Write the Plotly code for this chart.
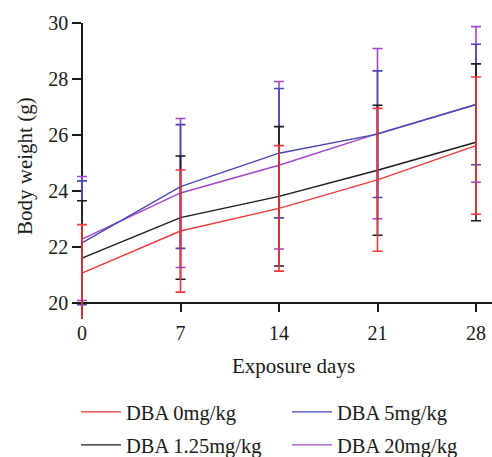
import plotly.graph_objects as go

days = [0, 7, 14, 21, 28]

series_names = ["DBA 0mg/kg", "DBA 1.25mg/kg", "DBA 5mg/kg", "DBA 20mg/kg"]
means_0 = [21.07, 22.57, 23.38, 24.40, 25.62]
err_up_0 = [1.73, 2.18, 2.24, 2.55, 2.45]
err_down_0 = [1.73, 2.18, 2.24, 2.55, 2.45]
means_125 = [21.60, 23.05, 23.81, 24.74, 25.74]
err_up_125 = [2.05, 2.20, 2.49, 2.32, 2.80]
err_down_125 = [1.60, 2.20, 2.49, 2.32, 2.80]
means_5 = [22.15, 24.16, 25.35, 26.03, 27.09]
err_up_5 = [2.21, 2.21, 2.31, 2.26, 2.15]
err_down_5 = [2.21, 2.21, 2.31, 2.26, 2.15]
means_20 = [22.28, 23.93, 24.92, 26.05, 27.09]
err_up_20 = [2.24, 2.66, 2.99, 3.04, 2.78]
err_down_20 = [2.19, 2.66, 2.99, 3.04, 2.78]

colors = {"DBA 0mg/kg": "#ee3a3a", "DBA 1.25mg/kg": "#1a1a1a",
          "DBA 5mg/kg": "#4747b3", "DBA 20mg/kg": "#a444cc"}

y_ticks = [20, 22, 24, 26, 28, 30]

FONT = "Liberation Serif"

data = {
    "DBA 0mg/kg": (means_0, err_up_0, err_down_0),
    "DBA 1.25mg/kg": (means_125, err_up_125, err_down_125),
    "DBA 5mg/kg": (means_5, err_up_5, err_down_5),
    "DBA 20mg/kg": (means_20, err_up_20, err_down_20),
}

W, H = 492, 457
L, R, T, B = 74, 0, 23, 138
pw = W - L - R
ph = H - T - B
PX_PER_DAY = 394 / 28
PX_PER_G = 28.0
XAXIS_PX = 82          # pixel column of day 0
X_MIN = -(XAXIS_PX - L) / PX_PER_DAY
X_MAX = X_MIN + pw / PX_PER_DAY
Y_MAX = 30
Y_MIN = Y_MAX - ph / PX_PER_G


def px_to_paper_x(px):
    return (px - L) / pw


def px_to_paper_y(py):
    return (H - B - py) / ph


# legend slot for each series: (legend id, left px of line sample, centre y px)
legend_slot = {
    "DBA 0mg/kg": ("legend", 82, 412),
    "DBA 5mg/kg": ("legend2", 293, 412),
    "DBA 1.25mg/kg": ("legend3", 82, 445),
    "DBA 20mg/kg": ("legend4", 293, 445),
}

fig = go.Figure()
for name in ["DBA 20mg/kg", "DBA 5mg/kg", "DBA 1.25mg/kg", "DBA 0mg/kg"]:
    m, eu, ed = data[name]
    fig.add_trace(go.Scatter(
        x=days, y=m, name=name, mode="lines",
        line=dict(color=colors[name], width=1.4),
        error_y=dict(type="data", symmetric=False, array=eu, arrayminus=ed,
                     visible=True, color=colors[name], thickness=1.6, width=5),
        cliponaxis=False,
        legend=legend_slot[name][0],
    ))

legend_layout = {}
for name, (lid, lx, ly) in legend_slot.items():
    legend_layout[lid] = dict(
        x=px_to_paper_x(lx - 6), y=px_to_paper_y(ly),
        xanchor="left", yanchor="middle", orientation="v",
        font=dict(family=FONT, size=20.5, color="#1a1a1a"),
        bgcolor="rgba(0,0,0,0)", itemwidth=40, borderwidth=0,
    )

fig.update_layout(
    width=W, height=H,
    margin=dict(l=L, r=R, t=T, b=B, autoexpand=False),
    plot_bgcolor="white", paper_bgcolor="white",
    font=dict(family=FONT, size=20, color="#1a1a1a"),
    showlegend=True,
    **legend_layout,
    xaxis=dict(range=[X_MIN, X_MAX], tickvals=days, ticks="outside",
               ticklen=8, tickwidth=1.5, tickcolor="#1a1a1a",
               showline=True, linecolor="#1a1a1a", linewidth=1.5,
               showgrid=False, zeroline=False, layer="below traces",
               anchor="free", position=(20 - Y_MIN) / (Y_MAX - Y_MIN),
               ticklabelstandoff=4,
               tickfont=dict(family=FONT, size=20, color="#1a1a1a")),
    yaxis=dict(range=[Y_MIN, Y_MAX], tickvals=y_ticks, ticks="outside",
               ticklen=9, tickwidth=1.5, tickcolor="#1a1a1a",
               showline=True, linecolor="#1a1a1a", linewidth=1.5,
               showgrid=False, zeroline=False, layer="below traces",
               anchor="free", position=(0 - X_MIN) / (X_MAX - X_MIN),
               tickfont=dict(family=FONT, size=20, color="#1a1a1a")),
    annotations=[
        dict(text="Exposure days", xref="x", x=15, yref="paper",
             y=px_to_paper_y(366), xanchor="center", yanchor="middle",
             showarrow=False, font=dict(family=FONT, size=21, color="#1a1a1a")),
        dict(text="Body weight (g)", xref="paper", x=px_to_paper_x(25),
             yref="paper", y=px_to_paper_y(166), xanchor="center",
             yanchor="middle", textangle=-90, showarrow=False,
             font=dict(family=FONT, size=21, color="#1a1a1a")),
    ],
)

fig.write_html("out.html", config={"displayModeBar": False},
               post_script="document.body.style.margin='0';")
